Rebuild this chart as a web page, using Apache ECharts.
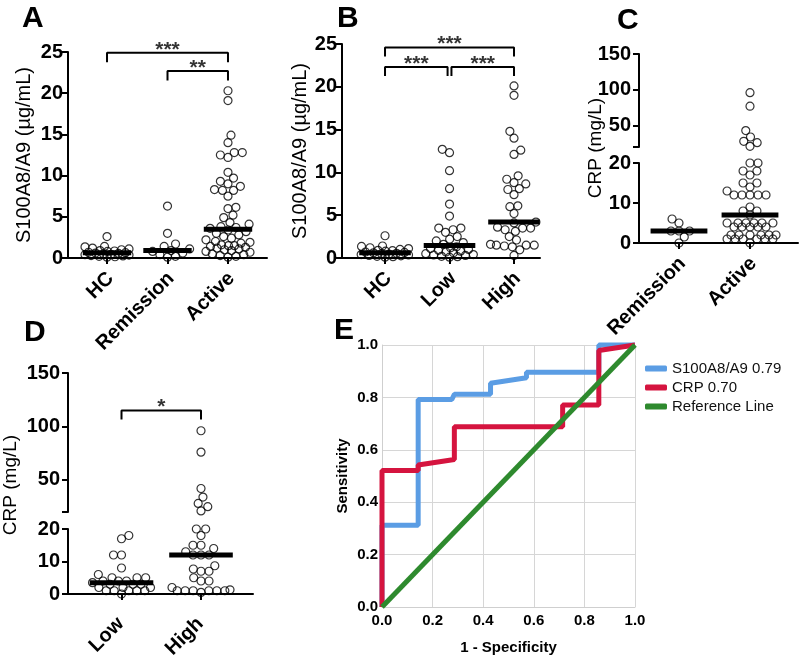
<!DOCTYPE html>
<html><head><meta charset="utf-8">
<script src="https://cdn.jsdelivr.net/npm/echarts@6/dist/echarts.min.js"></script>
<style>html,body{margin:0;padding:0;background:#fff}#c{width:800px;height:658px}</style>
</head><body><div id="c"></div>
<script>
// ================= DATA =================
// Panel A: S100A8/A9 (µg/mL) by disease state
const catsA = ['HC', 'Remission', 'Active'];
const hcS100 = [2.6, 1.4, 1.35, 1.2, 1.1, 1.0, 0.9, 0.85, 0.8, 0.7, 0.65, 0.6, 0.55, 0.5, 0.45, 0.4, 0.35, 0.3, 0.25, 0.2, 0.15, 0.1];
const remissionS100 = [6.3, 3.0, 1.7, 1.4, 1.1, 0.9, 0.8, 0.6, 0.4, 0.2, 0.1];
const activeS100 = [20.3, 19.1, 14.9, 14.0, 12.8, 12.8, 12.5, 12.2, 10.4, 9.7, 9.3, 9.0, 8.7, 8.3, 8.2, 8.2, 7.5, 6.15, 6.0, 5.2, 4.9, 4.3, 4.1, 3.8, 3.7, 3.6, 3.4, 3.2, 3.0, 2.8, 2.6, 2.4, 2.2, 2.0, 1.9, 1.8, 1.6, 1.5, 1.5, 1.4, 1.3, 1.2, 1.1, 1.0, 0.9, 0.8, 0.7, 0.5, 0.4, 0.3, 0.2, 0.1];
// Panel B: S100A8/A9 by activity level
const catsB = ['HC', 'Low', 'High'];
const lowS100 = [12.7, 12.3, 10.2, 8.1, 6.3, 4.9, 3.5, 3.5, 3.3, 3.0, 2.5, 2.2, 2.0, 1.8, 1.6, 1.3, 1.2, 1.1, 1.0, 0.9, 0.8, 0.7, 0.6, 0.5, 0.4, 0.35, 0.3, 0.2, 0.15, 0.1];
const highS100 = [20.1, 19.0, 14.8, 14.0, 12.6, 12.1, 9.6, 9.2, 8.8, 8.65, 8.1, 8.0, 7.4, 6.1, 6.0, 5.2, 4.2, 4.1, 3.6, 3.5, 3.5, 3.3, 3.1, 2.5, 2.1, 1.6, 1.5, 1.5, 1.5, 1.4, 1.3, 0.95, 0.3];
// Panel C: CRP (mg/L) by disease state
const catsC = ['Remission', 'Active'];
const remissionCRP = [6, 5, 3, 3, 3, 1.5, 0];
const activeCRP = [96, 77, 43, 34, 28, 26, 21, 20, 20, 18, 18, 17, 15, 15, 14, 13, 12, 12, 12, 12, 12, 9, 8, 8, 7, 5, 5, 5, 5, 5, 5, 4, 4, 4, 4, 4, 2, 2, 2, 2, 2, 2, 1, 1, 1, 1, 1, 1, 0];
// Panel D: CRP by activity level
const catsD = ['Low', 'High'];
const lowCRP = [18, 17, 12, 12, 8, 6, 5, 5, 5, 4, 4, 4, 3.5, 3, 3, 3, 2, 2, 2, 1, 1, 1, 1, 1, 0];
const highCRP = [96, 76, 42, 34, 28, 25, 21, 20, 20, 18, 15, 15, 14, 13, 12, 12, 12, 8.7, 7.7, 7, 7, 5, 4, 4, 2, 1.3, 1, 1, 1, 1, 1, 1, 0.5];
// Panel E: ROC curves
const s100Fpr = [0, 0, 0.143, 0.143, 0.276, 0.286, 0.429, 0.429, 0.571, 0.571, 0.857, 0.857, 1];
const s100Tpr = [0, 0.3125, 0.3125, 0.792, 0.792, 0.812, 0.812, 0.854, 0.875, 0.896, 0.896, 1, 1];
const crpFpr = [0, 0, 0.143, 0.143, 0.286, 0.286, 0.714, 0.714, 0.857, 0.857, 1];
const crpTpr = [0, 0.521, 0.521, 0.542, 0.563, 0.688, 0.688, 0.771, 0.771, 0.979, 1];
const refFpr = [0, 1];
const refTpr = [0, 1];
const rocNames = ['S100A8/A9 0.79', 'CRP 0.70', 'Reference Line'];
// Tick labels
const s100Ticks = [0, 5, 10, 15, 20, 25];
const crpLowTicks = [0, 10, 20];
const crpHighTicks = [50, 100, 150];
const rocTicks = [0, 0.2, 0.4, 0.6, 0.8, 1.0];
// Significance annotations
const sigA = [['HC', 'Active', '***'], ['Remission', 'Active', '**']];
const sigB = [['HC', 'High', '***'], ['HC', 'Low', '***'], ['Low', 'High', '***']];
const sigD = [['Low', 'High', '*']];

// ================= LAYOUT =================
const FONT = '"Liberation Sans", Arial, Helvetica, sans-serif';
const BREAK = 20;
const grids = [
  {left: 68,  top: 52,  width: 199, height: 206, xmin: 0.355, xmax: 3.645, ymin: 0, ymax: 25},   // 0 A
  {left: 342, top: 44,  width: 198, height: 214, xmin: 0.333, xmax: 3.403, ymin: 0, ymax: 25},   // 1 B
  {left: 639, top: 163, width: 159, height: 80,  xmin: 0.437, xmax: 2.676, ymin: 0, ymax: 20},   // 2 C low
  {left: 639, top: 54,  width: 159, height: 93,  xmin: 0.437, xmax: 2.676, ymin: 20, ymax: 150}, // 3 C high
  {left: 68,  top: 529, width: 185, height: 65,  xmin: 0.327, xmax: 2.654, ymin: 0, ymax: 20},   // 4 D low
  {left: 68,  top: 373, width: 185, height: 139, xmin: 0.327, xmax: 2.654, ymin: 20, ymax: 150}, // 5 D high
  {left: 382, top: 345, width: 253, height: 262, xmin: 0, xmax: 1, ymin: 0, ymax: 1}             // 6 E
];
const SYM = 8, SEP = 8, SPREAD = 0.37;
const BLUE = '#5B9DE4', RED = '#D5143F', GREEN = '#2E8A2E';
const LABEL_SIZE = 20;

function median(a) { const s = [...a].sort((x, y) => x - y); const n = s.length; return n % 2 ? s[(n - 1) / 2] : (s[n / 2 - 1] + s[n / 2]) / 2; }

// beeswarm: horizontal pixel offsets; limited to +-maxW, overlapping when crowded
function swarm(ys, D, maxW) {
  const order = ys.map((v, i) => i).sort((a, b) => ys[a] - ys[b]);
  const placed = [], off = new Array(ys.length);
  let flip = 1;
  for (const i of order) {
    const y = ys[i];
    const forb = [];
    for (const p of placed) {
      const dy = Math.abs(p.y - y);
      if (dy < D) { const w = Math.sqrt(D * D - dy * dy); forb.push([p.x - w, p.x + w]); }
    }
    const cands = [0];
    forb.forEach(f => cands.push(f[0], f[1]));
    cands.sort((a, b) => (Math.abs(a) - Math.abs(b)) || (flip * (b - a)));
    let x = 0;
    for (const c of cands) { if (forb.every(f => c <= f[0] + 1e-6 || c >= f[1] - 1e-6)) { x = c; break; } }
    if (Math.abs(x) > maxW) {
      let best = 0, bestScore = -Infinity;
      for (let c = 0; c <= maxW + 1e-9; c += 0.5) {
        for (const s of [c * flip, -c * flip]) {
          let mind = Infinity;
          for (const p of placed) { const d = Math.hypot(p.x - s, p.y - y); if (d < mind) mind = d; }
          if (mind > bestScore + 1e-6) { bestScore = mind; best = s; }
        }
      }
      x = best;
    }
    if (x !== 0) flip = -flip;
    placed.push({x, y}); off[i] = x;
  }
  return off;
}

const series = [];
function addPoints(gi, cat, values) {
  const g = grids[gi];
  const ppx = g.width / (g.xmax - g.xmin), ppy = g.height / (g.ymax - g.ymin);
  const off = swarm(values.map(v => (v - g.ymin) * ppy), SEP, SPREAD * ppx);
  series.push({
    type: 'scatter', xAxisIndex: gi, yAxisIndex: gi, clip: false, silent: true, z: 3,
    symbol: 'circle', symbolSize: SYM,
    itemStyle: {color: 'rgba(255,255,255,0)', borderColor: '#000', borderWidth: 1.2},
    data: values.map((v, i) => [cat + off[i] / ppx, v])
  });
}
function addMedian(gi, cat, values) {
  const m = median(values);
  series.push({type: 'line', xAxisIndex: gi, yAxisIndex: gi, silent: true, z: 4, symbol: 'none', clip: false,
    lineStyle: {color: '#000', width: 5, cap: 'butt'}, data: [[cat - 0.4, m], [cat + 0.4, m]]});
}
function addGroup(gi, cat, values) { addPoints(gi, cat, values); addMedian(gi, cat, values); }
function addSplitGroup(giLow, giHigh, cat, values) {
  addPoints(giLow, cat, values.filter(v => v <= BREAK));
  addPoints(giHigh, cat, values.filter(v => v > BREAK));
  addMedian(giLow, cat, values);
}
function addBrackets(gi, cats, sig, levels, drop, split) {
  sig.forEach((s, k) => {
    let x1 = cats.indexOf(s[0]) + 1, x2 = cats.indexOf(s[1]) + 1;
    if (split && split[k]) { x1 += split[k][0]; x2 += split[k][1]; }
    const y = levels[k], y0 = y - drop;
    series.push({type: 'line', xAxisIndex: gi, yAxisIndex: gi, silent: true, z: 5, symbol: 'none', clip: false,
      lineStyle: {color: '#000', width: 2}, data: [[x1, y0], [x1, y], [x2, y], [x2, y0]]});
    series.push({type: 'scatter', xAxisIndex: gi, yAxisIndex: gi, silent: true, z: 5, clip: false,
      symbol: 'circle', symbolSize: 1, itemStyle: {color: 'rgba(0,0,0,0)'},
      label: {show: true, position: 'inside', offset: [0, -3], formatter: s[2], color: '#000',
        fontSize: 21, fontWeight: 'bold', fontFamily: FONT},
      data: [[(x1 + x2) / 2, y]]});
  });
}

addGroup(0, 1, hcS100); addGroup(0, 2, remissionS100); addGroup(0, 3, activeS100);
addGroup(1, 1, hcS100); addGroup(1, 2, lowS100); addGroup(1, 3, highS100);
addSplitGroup(2, 3, 1, remissionCRP); addSplitGroup(2, 3, 2, activeCRP);
addSplitGroup(4, 5, 1, lowCRP); addSplitGroup(4, 5, 2, highCRP);
addBrackets(0, catsA, sigA, [24.9, 22.7], 1.15);
addBrackets(1, catsB, sigB, [24.6, 22.3, 22.3], 1.05, [null, [0, -0.03], [0.03, 0]]);
addBrackets(5, catsD, sigD, [115], 8.5);

const zip = (a, b) => a.map((v, i) => [v, b[i]]);
[[s100Fpr, s100Tpr, BLUE], [crpFpr, crpTpr, RED], [refFpr, refTpr, GREEN]].forEach((d, k) => {
  series.push({type: 'line', name: rocNames[k], xAxisIndex: 6, yAxisIndex: 6, symbol: 'none', clip: false, z: 3 + k,
    silent: true, lineStyle: {width: 5, color: d[2]}, itemStyle: {color: d[2]}, data: zip(d[0], d[1])});
});

const axisLine = {show: true, onZero: false, lineStyle: {color: '#000', width: 2}};
const tick = {show: true, length: 6, lineStyle: {color: '#000', width: 2}};
const lab = {color: '#000', fontSize: LABEL_SIZE, fontWeight: 'bold', fontFamily: FONT};

function catX(gi, cats, shift, margin) {
  const g = grids[gi], vals = cats.map((c, i) => i + 1);
  return {type: 'value', gridIndex: gi, min: g.xmin, max: g.xmax,
    axisLine: axisLine, splitLine: {show: false},
    axisTick: Object.assign({}, tick, {customValues: vals}),
    axisLabel: Object.assign({}, lab, {customValues: vals, rotate: 45, margin: margin, padding: [0, -shift, 0, 0],
      formatter: v => cats[Math.round(v) - 1] || ''})};
}
function valY(gi, ticks, name, nameGap, margin, tickVals) {
  const g = grids[gi];
  const ax = {type: 'value', gridIndex: gi, min: g.ymin, max: g.ymax,
    axisLine: axisLine, splitLine: {show: false},
    axisTick: Object.assign({}, tick, {customValues: tickVals || ticks}),
    axisLabel: Object.assign({}, lab, {customValues: ticks, margin: margin})};
  if (name) Object.assign(ax, {name: name, nameLocation: 'middle', nameGap: nameGap,
    nameTextStyle: {color: '#000', fontSize: 20, fontFamily: FONT}});
  return ax;
}

const gridOpts = grids.map(g => ({left: g.left, top: g.top, width: g.width, height: g.height, containLabel: false, outerBoundsMode: 'none'}));

const eAxisCommon = {type: 'value', gridIndex: 6, min: 0, max: 1,
  axisLine: {show: true, onZero: false, lineStyle: {color: '#cfcfcf', width: 1}},
  axisTick: {show: false},
  splitLine: {show: true, lineStyle: {color: '#d6d6d6', width: 1}},
  nameLocation: 'middle', nameTextStyle: {color: '#000', fontSize: 15, fontWeight: 'bold', fontFamily: FONT}};

const option = {
  animation: false,
  backgroundColor: '#fff',
  grid: gridOpts,
  xAxis: [
    catX(0, catsA, 5, 21), catX(1, catsB, 5, 21), catX(2, catsC, 5, 21),
    {type: 'value', gridIndex: 3, min: grids[3].xmin, max: grids[3].xmax, show: false},
    catX(4, catsD, -1, 26),
    {type: 'value', gridIndex: 5, min: grids[5].xmin, max: grids[5].xmax, show: false},
    Object.assign({}, eAxisCommon, {name: '1 - Specificity', nameGap: 33,
      axisLabel: {customValues: rocTicks, color: '#000', fontSize: 15, fontWeight: 'bold', fontFamily: FONT, margin: 6, formatter: v => v.toFixed(1)}})
  ],
  yAxis: [
    valY(0, s100Ticks, 'S100A8/A9 (µg/mL)', 34, 5),
    valY(1, s100Ticks, 'S100A8/A9 (µg/mL)', 25, 5),
    valY(2, crpLowTicks, null, 0, 8),
    valY(3, crpHighTicks, null, 0, 8, [BREAK].concat(crpHighTicks)),
    valY(4, crpLowTicks, null, 0, 8),
    valY(5, crpHighTicks, null, 0, 8, [BREAK].concat(crpHighTicks)),
    Object.assign({}, eAxisCommon, {name: 'Sensitivity', nameGap: 32,
      axisLabel: {customValues: rocTicks, color: '#000', fontSize: 15, fontWeight: 'bold', fontFamily: FONT, margin: 4, formatter: v => v.toFixed(1)}})
  ],
  legend: {data: rocNames, orient: 'vertical', left: 640, top: 356, itemWidth: 22, itemHeight: 6, icon: 'roundRect',
    itemGap: 4, selectedMode: false,
    textStyle: {color: '#111', fontSize: 15, fontFamily: FONT, lineHeight: 15}},
  graphic: [
    {type: 'text', left: 22, top: 4, style: {text: 'A', font: 'bold 30px ' + FONT, fill: '#000'}},
    {type: 'text', left: 337, top: 4, style: {text: 'B', font: 'bold 30px ' + FONT, fill: '#000'}},
    {type: 'text', left: 617, top: 6, style: {text: 'C', font: 'bold 30px ' + FONT, fill: '#000'}},
    {type: 'text', left: 24, top: 318, style: {text: 'D', font: 'bold 30px ' + FONT, fill: '#000'}},
    {type: 'text', left: 334, top: 316, style: {text: 'E', font: 'bold 30px ' + FONT, fill: '#000'}},
    {type: 'text', x: 596, y: 148, rotation: Math.PI / 2,
      style: {text: 'CRP (mg/L)', font: '19px ' + FONT, fill: '#000', align: 'center', verticalAlign: 'middle'}},
    {type: 'text', x: 11, y: 485, rotation: Math.PI / 2,
      style: {text: 'CRP (mg/L)', font: '19px ' + FONT, fill: '#000', align: 'center', verticalAlign: 'middle'}}
  ],
  series: series
};

const chart = echarts.init(document.getElementById('c'), null, {renderer: 'canvas'});
chart.setOption(option);
</script>
</body></html>
